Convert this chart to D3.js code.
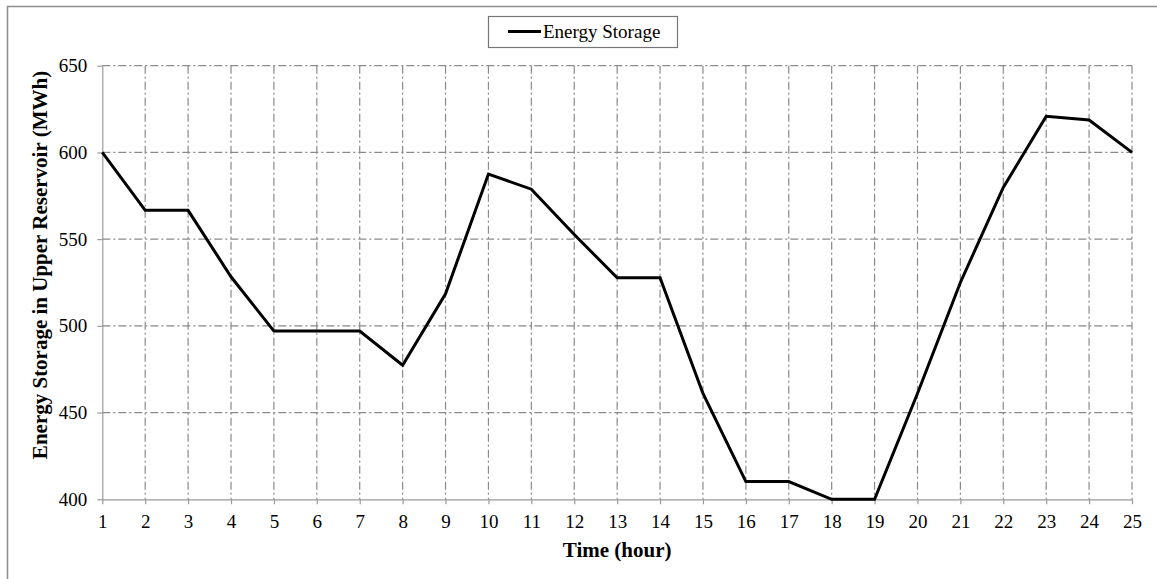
<!DOCTYPE html>
<html>
<head>
<meta charset="utf-8">
<script src="https://cdn.jsdelivr.net/npm/d3@7"></script>
<style>
  html, body { margin: 0; padding: 0; background: #fff; }
  svg { display: block; font-family: "Liberation Serif", "Times New Roman", serif; }
</style>
</head>
<body>
<svg id="chart" width="1157" height="579"></svg>
<script>
// Hourly energy stored in the upper reservoir
const hours = [1, 2, 3, 4, 5, 6, 7, 8, 9, 10, 11, 12, 13, 14, 15, 16, 17, 18, 19, 20, 21, 22, 23, 24, 25];
const storage = [600, 566.6, 566.6, 528.3, 497, 497, 497, 477.3, 518.5, 587.5, 578.8, 552.7, 527.7, 527.7,
                 461, 410.2, 410.2, 400, 400, 461, 525, 579.8, 620.8, 618.7, 600];
const yTicks = [400, 450, 500, 550, 600, 650];
const seriesName = "Energy Storage";
const xTitle = "Time (hour)";
const yTitle = "Energy Storage in Upper Reservoir (MWh)";

const svg = d3.select("#chart");
const plotLeft = 102.3, plotRight = 1132, plotTop = 65.7, plotBottom = 499.3;

const x = d3.scaleLinear().domain([1, 25]).range([plotLeft, plotRight]);
const y = d3.scaleLinear().domain([400, 650]).range([plotBottom, plotTop]);

const gridColor = "#8a8a8a";
const dash = "8,3,2,3";

// outer chart frame
svg.append("rect")
  .attr("x", 7.5).attr("y", 6.5)
  .attr("width", 1170).attr("height", 600)
  .attr("fill", "none").attr("stroke", "#8c8c8c").attr("stroke-width", 1.5);

// horizontal gridlines
svg.append("g")
  .selectAll("line")
  .data(yTicks.filter(v => v > 400))
  .join("line")
  .attr("x1", plotLeft).attr("x2", plotRight)
  .attr("y1", d => y(d)).attr("y2", d => y(d))
  .attr("stroke", gridColor).attr("stroke-width", 1.2)
  .attr("stroke-dasharray", dash);

// vertical gridlines
svg.append("g")
  .selectAll("line")
  .data(hours.filter(h => h > 1))
  .join("line")
  .attr("x1", d => x(d)).attr("x2", d => x(d))
  .attr("y1", plotTop).attr("y2", plotBottom)
  .attr("stroke", gridColor).attr("stroke-width", 1.2)
  .attr("stroke-dasharray", dash);

// y axis
const yAxis = svg.append("g")
  .attr("transform", `translate(${plotLeft},0)`)
  .call(d3.axisLeft(y).tickValues(yTicks).tickSize(5).tickSizeOuter(0).tickPadding(10));
yAxis.select(".domain").attr("stroke", "#9a9a9a").attr("stroke-width", 1.2);
yAxis.selectAll(".tick line").attr("stroke", "#9a9a9a").attr("stroke-width", 1.2);
yAxis.selectAll(".tick text")
  .attr("fill", "#000").attr("font-size", 19)
  .attr("font-family", "Liberation Serif");

// x axis
const xAxis = svg.append("g")
  .attr("transform", `translate(0,${plotBottom})`)
  .call(d3.axisBottom(x).tickValues(hours).tickFormat(d3.format("d")).tickSize(5).tickSizeOuter(0).tickPadding(10));
xAxis.select(".domain").attr("stroke", "#9a9a9a").attr("stroke-width", 1.2);
xAxis.selectAll(".tick line").attr("stroke", "#9a9a9a").attr("stroke-width", 1.2);
xAxis.selectAll(".tick text")
  .attr("fill", "#000").attr("font-size", 19)
  .attr("font-family", "Liberation Serif");

// storage curve
const line = d3.line().x((d, i) => x(hours[i])).y(d => y(d));
svg.append("path")
  .datum(storage)
  .attr("d", line)
  .attr("fill", "none")
  .attr("stroke", "#000")
  .attr("stroke-width", 3)
  .attr("stroke-linejoin", "miter");

// axis titles
svg.append("text")
  .attr("x", (plotLeft + plotRight) / 2).attr("y", 557)
  .attr("text-anchor", "middle")
  .attr("font-size", 21).attr("font-weight", "bold")
  .text(xTitle);

svg.append("text")
  .attr("transform", "translate(47,265) rotate(-90)")
  .attr("text-anchor", "middle")
  .attr("font-size", 21).attr("font-weight", "bold")
  .text(yTitle);

// legend
const legend = svg.append("g");
legend.append("rect")
  .attr("x", 488.5).attr("y", 16.5)
  .attr("width", 189).attr("height", 31)
  .attr("fill", "#fff").attr("stroke", "#777").attr("stroke-width", 1.2);
legend.append("line")
  .attr("x1", 508).attr("x2", 541)
  .attr("y1", 31.5).attr("y2", 31.5)
  .attr("stroke", "#000").attr("stroke-width", 3);
legend.append("text")
  .attr("x", 543).attr("y", 38)
  .attr("font-size", 19)
  .text(seriesName);
</script>
</body>
</html>
